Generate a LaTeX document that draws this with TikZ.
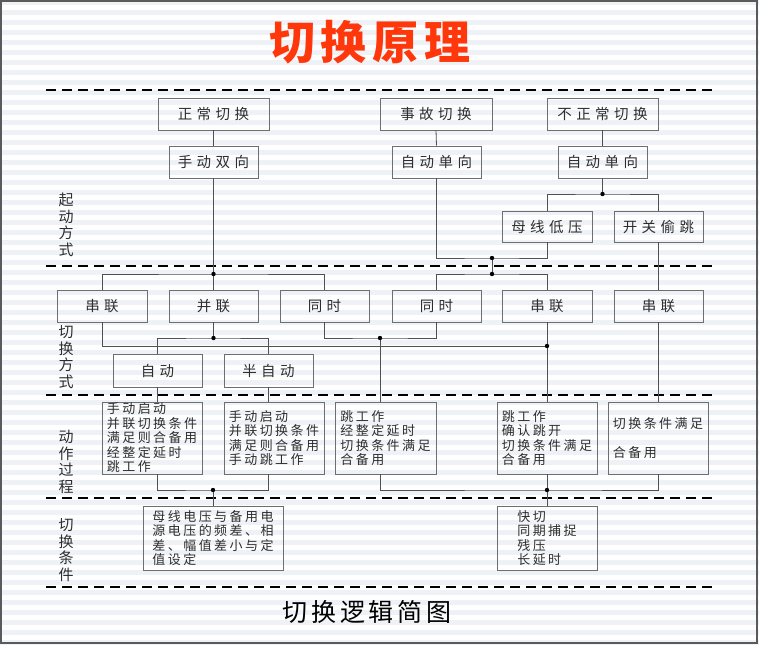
\documentclass[tikz,border=0pt]{standalone}
\usepackage{fontspec}
\newfontfamily\cjk{Noto Sans CJK SC}
\newfontfamily\cjkbox[LetterSpace=19]{Noto Sans CJK SC}
\newfontfamily\cjktop[LetterSpace=31]{Noto Sans CJK SC}
\newfontfamily\cjktitle[LetterSpace=13]{Noto Sans CJK SC}
\newfontfamily\cjkcap[LetterSpace=15]{Noto Sans CJK SC}
\definecolor{stripe}{RGB}{238,242,247}
\definecolor{boxgray}{RGB}{110,110,110}
\definecolor{linegray}{RGB}{80,80,80}
\definecolor{txt}{RGB}{45,45,45}
\definecolor{titlered}{RGB}{255,55,10}
\definecolor{framegray}{RGB}{90,90,90}
\tikzset{
  topbox/.style={draw=boxgray, line width=0.9pt, inner sep=0pt, minimum height=32pt, text=txt,
    font=\cjktop\fontsize{14.5pt}{16pt}\selectfont},
  bodybox/.style={draw=boxgray, line width=0.9pt, inner sep=0pt, text=txt, align=left,
    font=\cjkbox\fontsize{13pt}{14.5pt}\selectfont},
  sidelabel/.style={inner sep=0pt, text=txt, align=center,
    font=\cjk\fontsize{15pt}{16.5pt}\selectfont},
  conn/.style={draw=linegray, line width=0.8pt},
  dashline/.style={draw=black, line width=1.8pt, dash pattern=on 10pt off 6pt},
  jdot/.style={fill=black}
}
\begin{document}
\begin{tikzpicture}[x=1pt,y=-1pt]
\useasboundingbox (0,0) rectangle (759,645);
% background
\fill[white] (0,0) rectangle (759,645);
\foreach \i in {0,...,64} \fill[stripe] (0,{\i*10}) rectangle (759,{\i*10+5});
\draw[framegray, line width=1.6pt] (1,1) rectangle (757,643);

% title and caption
\node[text=titlered, font=\cjktitle\bfseries\fontsize{46pt}{50pt}\selectfont, inner sep=0pt] (title) at (370,42) {切换原理};
\node[text=black, font=\cjkcap\fontsize{25pt}{28pt}\selectfont, inner sep=0pt] (caption) at (367,612) {切换逻辑简图};

% dashed separators
\foreach \y in {90,266,395,498,587} \draw[dashline] (46,\y) -- (714,\y);

% side labels
\node[sidelabel] (l1) at (66,225) {起\\动\\方\\式};
\node[sidelabel] (l2) at (66,357) {切\\换\\方\\式};
\node[sidelabel] (l3) at (66,462) {动\\作\\过\\程};
\node[sidelabel] (l4) at (66,550) {切\\换\\条\\件};

% row 1 : start modes
\node[topbox, minimum width=111pt] (n1) at (213.5,114) {正常切换};
\node[topbox, minimum width=89pt]  (n2) at (213.5,162) {手动双向};
\node[topbox, minimum width=112pt] (e1) at (436,114) {事故切换};
\node[topbox, minimum width=89pt]  (e2) at (436.5,162) {自动单向};
\node[topbox, minimum width=111pt] (a1) at (602.5,114) {不正常切换};
\node[topbox, minimum width=89pt]  (a2) at (602.5,162) {自动单向};
\node[topbox, minimum width=90pt, minimum height=31pt] (a3) at (547,226.5) {母线低压};
\node[topbox, minimum width=89pt, minimum height=31pt] (a4) at (658.5,226.5) {开关偷跳};

% row 2 : switching modes
\node[topbox, minimum width=90pt] (s1) at (102,306) {串联};
\node[topbox, minimum width=89pt] (s2) at (213.5,306) {并联};
\node[topbox, minimum width=89pt] (s3) at (324.5,306) {同时};
\node[topbox, minimum width=89pt] (s4) at (436.5,306) {同时};
\node[topbox, minimum width=90pt] (s5) at (547,306) {串联};
\node[topbox, minimum width=89pt] (s6) at (658.5,306) {串联};
\node[topbox, minimum width=89pt, minimum height=33pt] (z1) at (157.5,370.5) {自动};
\node[topbox, minimum width=89pt, minimum height=33pt] (z2) at (268.5,370.5) {半自动};

% row 3 : action process
\node[bodybox, minimum width=100pt, minimum height=72pt] (p1) at (152,438) {手动启动\\并联切换条件\\满足则合备用\\经整定延时\\跳工作};
\node[bodybox, minimum width=100pt, minimum height=72pt] (p2) at (274,438) {手动启动\\并联切换条件\\满足则合备用\\手动跳工作};
\node[bodybox, minimum width=101pt, minimum height=72pt] (p3) at (385.5,438) {跳工作\\经整定延时\\切换条件满足\\合备用};
\node[bodybox, minimum width=100pt, minimum height=72pt] (p4) at (547,438) {跳工作\\确认跳开\\切换条件满足\\合备用};
\node[bodybox, minimum width=100pt, minimum height=72pt] (p5) at (658,438) {切换条件满足\\ \\合备用};

% row 4 : switching conditions
\node[bodybox, minimum width=140pt, minimum height=64pt] (c1) at (213,538) {母线电压与备用电\\源电压的频差、相\\差、幅值差小与定\\值设定};
\node[bodybox, minimum width=100pt, minimum height=64pt] (c2) at (547,538) {快切\\同期捕捉\\残压\\长延时};

% junctions
\coordinate (j1) at (213.5,274);
\coordinate (j2) at (602.5,194);
\coordinate (j3) at (492,258);
\coordinate (j4) at (492,274);
\coordinate (j5) at (213.5,338);
\coordinate (j6) at (547,346);
\coordinate (j7) at (380,338);
\coordinate (j8) at (213,490);
\coordinate (j9) at (547,490);

% connectors, top section
\draw[conn] (n1.south) -- (n2.north);
\draw[conn] (e1.south) -- (e2.north);
\draw[conn] (a1.south) -- (a2.north);
\draw[conn] (a2.south) -- (j2);
\draw[conn] (a3.north) |- (j2) -| (a4.north);
\draw[conn] (e2.south) |- (j3) -| (a3.south);
\draw[conn] (n2.south) -- (j1);
\draw[conn] (s1.north) |- (j1) -| (s3.north);
\draw[conn] (j1) -- (s2.north);
\draw[conn] (j3) -- (j4);
\draw[conn] (s4.north) |- (j4) -| (s5.north);
\draw[conn] (a4.south) -- (s6.north);

% connectors, middle section
\draw[conn] (s2.south) -- (j5);
\draw[conn] (z1.north) |- (j5) -| (z2.north);
\draw[conn] (s1.south) |- (j6);
\draw[conn] (s5.south) -- (j6) -- (p4.north);
\draw[conn] (s3.south) |- (j7) -| (s4.south);
\draw[conn] (j7) -- (j7 |- p3.north);
\draw[conn] (s6.south) -- (s6.south |- p5.north);
\draw[conn] (z1.south) -- (z1.south |- p1.north);
\draw[conn] (z2.south) -- (z2.south |- p2.north);

% connectors, bottom section
\draw[conn] (z1.south |- p1.south) |- (j8) -| (z2.south |- p2.south);
\draw[conn] (j8) -- (c1.north);
\draw[conn] (j7 |- p3.south) |- (j9) -| (s6.south |- p5.south);
\draw[conn] (p4.south) -- (j9) -- (c2.north);

% junction dots
\foreach \j in {j1,j2,j3,j4,j5,j6,j7,j8,j9} \fill[jdot] (\j) circle (2.2pt);
\end{tikzpicture}
\end{document}
